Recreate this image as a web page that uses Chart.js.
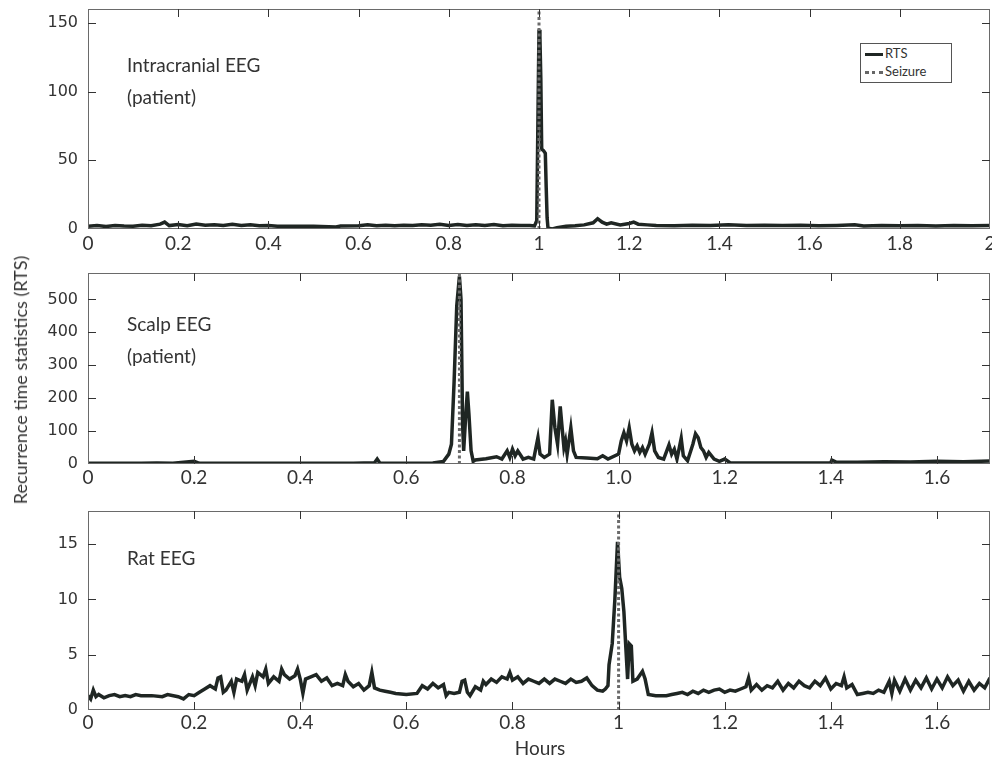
<!DOCTYPE html>
<html>
<head>
<meta charset="utf-8">
<script src="https://cdn.jsdelivr.net/npm/chart.js@4.4.1/dist/chart.umd.min.js"></script>
<style>
    body { margin: 0; background: #fff; }
    #wrap { position: relative; width: 992px; height: 760px; overflow: hidden; font-family: Lato, 'Open Sans', sans-serif; color: #333; }
    canvas { position: absolute; left: 0; }
    .note { position: absolute; font-size: 19px; line-height: 32px; color: #333; }
    #ytitle { position: absolute; left: 20px; top: 380px; transform: translate(-50%, -50%) rotate(-90deg); font-size: 18px; white-space: nowrap; }
    #xtitle { position: absolute; left: 540px; top: 736px; transform: translateX(-50%); font-size: 19px; }
    #legend { position: absolute; left: 860px; top: 43px; width: 90px; height: 38px; border: 1px solid #555; background: #fff; font-size: 13px; }
    #legend div { position: absolute; left: 24px; }
    #legend span { position: absolute; left: -20px; width: 18px; top: 8px; }
</style>
</head>
<body>
<div id="wrap">
    <canvas id="p1" width="992" height="259" style="top:0"></canvas>
    <canvas id="p2" width="992" height="236" style="top:258px"></canvas>
    <canvas id="p3" width="992" height="245" style="top:495px"></canvas>
    <div class="note" style="left:127px;top:49px">Intracranial EEG<br>(patient)</div>
    <div class="note" style="left:127px;top:308px">Scalp EEG<br>(patient)</div>
    <div class="note" style="left:127px;top:542px">Rat EEG</div>
    <div id="legend">
        <div style="top:1px"><span style="border-top:3px solid #1f2623"></span>RTS</div>
        <div style="top:19px"><span style="border-top:3px dotted #666"></span>Seizure</div>
    </div>
    <div id="ytitle">Recurrence time statistics (RTS)</div>
    <div id="xtitle">Hours</div>
</div>
<script>
// Intracranial EEG (patient)
const hours1 = [0, 0.02, 0.04, 0.06, 0.08, 0.1, 0.12, 0.14, 0.16, 0.17, 0.18, 0.2, 0.22, 0.24, 0.26, 0.28, 0.3, 0.32, 0.34, 0.36, 0.38, 0.4, 0.42, 0.45, 0.5, 0.55, 0.56, 0.6, 0.62, 0.64, 0.66, 0.68, 0.7, 0.72, 0.74, 0.76, 0.78, 0.8, 0.82, 0.84, 0.86, 0.88, 0.9, 0.92, 0.94, 0.96, 0.98, 0.99, 0.995, 0.998, 1.0, 1.002, 1.004, 1.006, 1.01, 1.014, 1.016, 1.018, 1.02, 1.03, 1.04, 1.05, 1.06, 1.08, 1.1, 1.12, 1.13, 1.14, 1.15, 1.16, 1.18, 1.2, 1.21, 1.22, 1.24, 1.26, 1.3, 1.34, 1.38, 1.42, 1.46, 1.5, 1.54, 1.58, 1.62, 1.66, 1.7, 1.72, 1.76, 1.8, 1.84, 1.88, 1.92, 1.96, 2.0];
const rts1 = [2, 2.5, 1.8, 2.6, 2.2, 2, 2.8, 2.3, 3.5, 5, 2.5, 3.2, 2.4, 3.6, 2.8, 3, 2.6, 3.4, 2.5, 3, 2.4, 2.6, 2, 2, 2, 1.5, 2.2, 2.3, 3, 2.4, 2.8, 2.3, 2.8, 2.5, 3, 2.7, 3.4, 2.6, 3.2, 2.5, 3, 2.6, 3.3, 2.4, 2.8, 2.5, 2.6, 2.2, 6, 90, 145, 140, 110, 58, 57, 55, 30, 8, 0.5, 0, 1, 1.5, 2, 2.3, 3, 4.5, 7.5, 5, 3.5, 4.5, 3, 4, 5, 3.5, 3, 2.6, 2.4, 2.8, 2.5, 3, 2.6, 2.8, 2.5, 2.7, 2.4, 2.6, 3, 2.2, 2.6, 2.4, 2.6, 2.2, 2.5, 2.3, 2.6];

// Scalp EEG (patient)
const hours2 = [0, 0.05, 0.1, 0.13, 0.16, 0.2, 0.21, 0.3, 0.4, 0.5, 0.54, 0.545, 0.55, 0.6, 0.65, 0.67, 0.68, 0.685, 0.69, 0.695, 0.7, 0.703, 0.706, 0.708, 0.712, 0.715, 0.718, 0.722, 0.726, 0.73, 0.75, 0.77, 0.78, 0.79, 0.795, 0.8, 0.805, 0.81, 0.82, 0.83, 0.84, 0.848, 0.852, 0.86, 0.87, 0.875, 0.88, 0.885, 0.89, 0.893, 0.897, 0.9, 0.903, 0.91, 0.915, 0.92, 0.94, 0.96, 0.97, 0.98, 1.0, 1.005, 1.01, 1.015, 1.02, 1.025, 1.03, 1.035, 1.04, 1.045, 1.05, 1.058, 1.063, 1.068, 1.075, 1.085, 1.095, 1.1, 1.105, 1.11, 1.118, 1.122, 1.13, 1.14, 1.145, 1.15, 1.155, 1.16, 1.165, 1.17, 1.18, 1.19, 1.2, 1.21, 1.25, 1.3, 1.35, 1.4, 1.402, 1.41, 1.45, 1.5, 1.55, 1.6, 1.65, 1.7];
const rts2 = [2, 2, 2, 3, 2, 8, 2, 2, 2, 2, 4, 15, 3, 2, 3, 8, 30, 60, 250, 480, 570, 500, 120, 40, 150, 220, 150, 40, 8, 12, 16, 22, 15, 40, 20, 45, 25, 40, 15, 20, 15, 80, 30, 20, 30, 195, 110, 60, 175, 120, 50, 70, 30, 110, 40, 20, 18, 16, 25, 15, 30, 70, 95, 70, 110, 60, 40, 55, 35, 50, 30, 60, 95, 40, 20, 15, 58, 30, 45, 15, 78, 25, 10, 60, 92, 80, 50, 40, 20, 35, 15, 8, 15, 4, 3, 3, 3, 4, 12, 6, 5, 7, 6, 8, 7, 9];

// Rat EEG
const hours3 = [0, 0.005, 0.01, 0.015, 0.02, 0.03, 0.04, 0.05, 0.06, 0.07, 0.08, 0.09, 0.1, 0.12, 0.14, 0.15, 0.17, 0.18, 0.19, 0.2, 0.21, 0.22, 0.23, 0.24, 0.245, 0.25, 0.255, 0.26, 0.27, 0.275, 0.28, 0.29, 0.295, 0.3, 0.31, 0.315, 0.32, 0.33, 0.335, 0.34, 0.35, 0.36, 0.365, 0.37, 0.38, 0.39, 0.395, 0.4, 0.405, 0.41, 0.42, 0.43, 0.44, 0.45, 0.46, 0.47, 0.48, 0.485, 0.49, 0.5, 0.51, 0.52, 0.53, 0.535, 0.54, 0.55, 0.56, 0.57, 0.58, 0.6, 0.62, 0.63, 0.64, 0.65, 0.66, 0.67, 0.675, 0.68, 0.69, 0.7, 0.705, 0.71, 0.715, 0.72, 0.73, 0.74, 0.745, 0.75, 0.76, 0.77, 0.78, 0.79, 0.795, 0.8, 0.81, 0.82, 0.83, 0.84, 0.85, 0.86, 0.87, 0.88, 0.89, 0.9, 0.91, 0.92, 0.93, 0.94, 0.95, 0.96, 0.97, 0.975, 0.98, 0.982, 0.988, 0.993, 0.998, 1.002, 1.006, 1.01, 1.013, 1.017, 1.02, 1.024, 1.027, 1.035, 1.045, 1.05, 1.056, 1.07, 1.09, 1.1, 1.11, 1.12, 1.13, 1.14, 1.15, 1.16, 1.17, 1.18, 1.19, 1.2, 1.21, 1.22, 1.23, 1.24, 1.245, 1.25, 1.26, 1.27, 1.28, 1.29, 1.3, 1.31, 1.32, 1.33, 1.34, 1.35, 1.36, 1.37, 1.38, 1.39, 1.4, 1.41, 1.42, 1.425, 1.43, 1.44, 1.45, 1.46, 1.47, 1.48, 1.49, 1.5, 1.51, 1.515, 1.52, 1.53, 1.54, 1.55, 1.56, 1.57, 1.58, 1.59, 1.6, 1.61, 1.62, 1.63, 1.64, 1.65, 1.66, 1.67, 1.68, 1.69, 1.7];
const rts3 = [1.3, 1.0, 1.8, 1.2, 1.4, 1.1, 1.3, 1.4, 1.2, 1.3, 1.2, 1.4, 1.3, 1.3, 1.2, 1.4, 1.2, 1.0, 1.4, 1.3, 1.6, 1.9, 2.2, 1.9, 2.9, 3.0, 1.6, 1.8, 2.6, 1.6, 2.8, 2.6, 3.2, 1.8, 3.0, 2.2, 3.4, 3.0, 3.7, 2.4, 3.0, 2.6, 3.7, 3.2, 2.8, 3.1, 3.7, 2.8, 1.5, 2.8, 3.0, 3.2, 2.6, 2.9, 2.2, 2.4, 2.2, 3.2, 2.6, 2.1, 2.4, 1.8, 2.2, 3.4, 2.0, 1.8, 1.7, 1.6, 1.5, 1.4, 1.5, 2.2, 1.9, 2.4, 2.0, 2.3, 1.3, 1.6, 1.5, 1.6, 2.6, 2.7, 1.6, 1.3, 2.1, 1.8, 2.6, 2.3, 2.8, 2.5, 3.0, 2.8, 3.4, 2.7, 3.0, 2.4, 2.8, 2.6, 2.4, 2.8, 2.4, 2.8, 2.6, 2.4, 2.8, 2.5, 2.6, 2.9, 2.2, 1.8, 1.7, 1.9, 2.2, 4.1, 6.0, 10, 15.2, 12, 11, 8.9, 6.2, 2.8, 6.0, 5.8, 2.6, 2.8, 3.5, 2.8, 1.4, 1.3, 1.3, 1.4, 1.5, 1.6, 1.4, 1.7, 1.5, 1.8, 1.6, 1.8, 1.9, 1.6, 1.8, 1.7, 1.9, 2.1, 2.9, 1.8, 2.3, 1.8, 2.2, 2.0, 2.6, 1.8, 2.4, 2.0, 2.6, 2.2, 2.0, 2.6, 2.2, 2.9, 1.9, 2.4, 2.2, 3.0, 2.0, 2.3, 1.4, 1.5, 1.6, 1.5, 1.8, 1.6, 2.6, 1.5, 2.7, 1.7, 2.8, 1.8, 2.7, 2.0, 2.9, 1.9, 2.8, 2.0, 3.0, 2.2, 2.7, 1.7, 2.6, 1.8, 2.4, 2.0, 2.9];

// seizure onset per panel
const seizure = [1.0, 0.70, 1.0];

// axis ranges and ticks
const xMax = [2, 1.7, 1.7];
const yMax = [160, 580, 18];
const xTicks1 = [0, 0.2, 0.4, 0.6, 0.8, 1, 1.2, 1.4, 1.6, 1.8, 2];
const xLabels1 = ['0', '0.2', '0.4', '0.6', '0.8', '1', '1.2', '1.4', '1.6', '1.8', '2'];
const xTicks2 = [0, 0.2, 0.4, 0.6, 0.8, 1, 1.2, 1.4, 1.6];
const xLabels2 = ['0', '0.2', '0.4', '0.6', '0.8', '1.0', '1.2', '1.4', '1.6'];
const xLabels3 = ['0', '0.2', '0.4', '0.6', '0.8', '1', '1.2', '1.4', '1.6'];
const yTicks1 = [0, 50, 100, 150];
const yTicks2 = [0, 100, 200, 300, 400, 500];
const yTicks3 = [0, 5, 10, 15];

// box round the plot with inward ticks on all four sides (MATLAB look)
const framePlugin = {
    id: 'frame',
    afterDatasetsDraw(chart) {
        const { ctx, chartArea: a, scales: { x, y } } = chart;
        ctx.save();
        ctx.strokeStyle = '#6a6a6a';
        ctx.lineWidth = 1;
        ctx.strokeRect(a.left + 0.5, a.top + 0.5, a.width - 1, a.height - 1);
        ctx.strokeStyle = '#333';
        ctx.beginPath();
        x.ticks.forEach(t => {
            const px = Math.round(x.getPixelForValue(t.value)) + 0.5;
            if (px <= a.left + 2 || px >= a.right - 2) return;
            ctx.moveTo(px, a.bottom); ctx.lineTo(px, a.bottom - 8);
            ctx.moveTo(px, a.top); ctx.lineTo(px, a.top + 8);
        });
        y.ticks.forEach(t => {
            const py = Math.round(y.getPixelForValue(t.value)) + 0.5;
            if (py >= a.bottom - 2 || py <= a.top + 2) return;
            ctx.moveTo(a.left, py); ctx.lineTo(a.left + 8, py);
            ctx.moveTo(a.right, py); ctx.lineTo(a.right - 8, py);
        });
        ctx.stroke();
        ctx.restore();
    }
};

function makePanel(id, idx, hours, rts, xTicks, xLabels, yTicks, padTop, labelPad) {
    const points = hours.map((h, i) => ({ x: h, y: rts[i] }));
    const onset = [{ x: seizure[idx], y: 0 }, { x: seizure[idx], y: yMax[idx] }];
    return new Chart(document.getElementById(id), {
        type: 'line',
        data: {
            datasets: [
                { label: 'Seizure', data: onset, borderColor: '#6b6b6b', borderWidth: 3, borderDash: [3, 2.5], pointRadius: 0, order: 0 },
                { label: 'RTS', data: points, borderColor: '#1f2623', borderWidth: 3.5, pointRadius: 0, tension: 0, order: 1 }
            ]
        },
        options: {
            responsive: false,
            animation: false,
            layout: { padding: { top: padTop, right: 2, left: 0, bottom: 0 } },
            plugins: { legend: { display: false }, tooltip: { enabled: false } },
            scales: {
                x: {
                    type: 'linear', min: 0, max: xMax[idx],
                    afterBuildTicks: s => { s.ticks = xTicks.map(v => ({ value: v })); },
                    afterFit: s => { s.height = 30; s.paddingLeft = 0; s.paddingRight = 0; },
                    grid: { display: false, drawTicks: false }, border: { display: false },
                    ticks: {
                        callback: (v, i) => xLabels[i],
                        font: { family: "Lato, 'Open Sans', sans-serif", size: 19 },
                        color: '#333', padding: labelPad, maxRotation: 0, autoSkip: false
                    }
                },
                y: {
                    min: 0, max: yMax[idx],
                    afterBuildTicks: s => { s.ticks = yTicks.map(v => ({ value: v })); },
                    afterFit: s => { s.width = 88; s.paddingTop = 0; s.paddingBottom = 0; },
                    grid: { display: false, drawTicks: false }, border: { display: false },
                    ticks: {
                        font: { family: "'DejaVu Sans', sans-serif", size: 16 },
                        color: '#333', padding: 10
                    }
                }
            }
        },
        plugins: [framePlugin]
    });
}

makePanel('p1', 0, hours1, rts1, xTicks1, xLabels1, yTicks1, 9, 3);
makePanel('p2', 1, hours2, rts2, xTicks2, xLabels2, yTicks2, 15, 2);
makePanel('p3', 2, hours3, rts3, xTicks2, xLabels3, yTicks3, 16, 1);
</script>
</body>
</html>
